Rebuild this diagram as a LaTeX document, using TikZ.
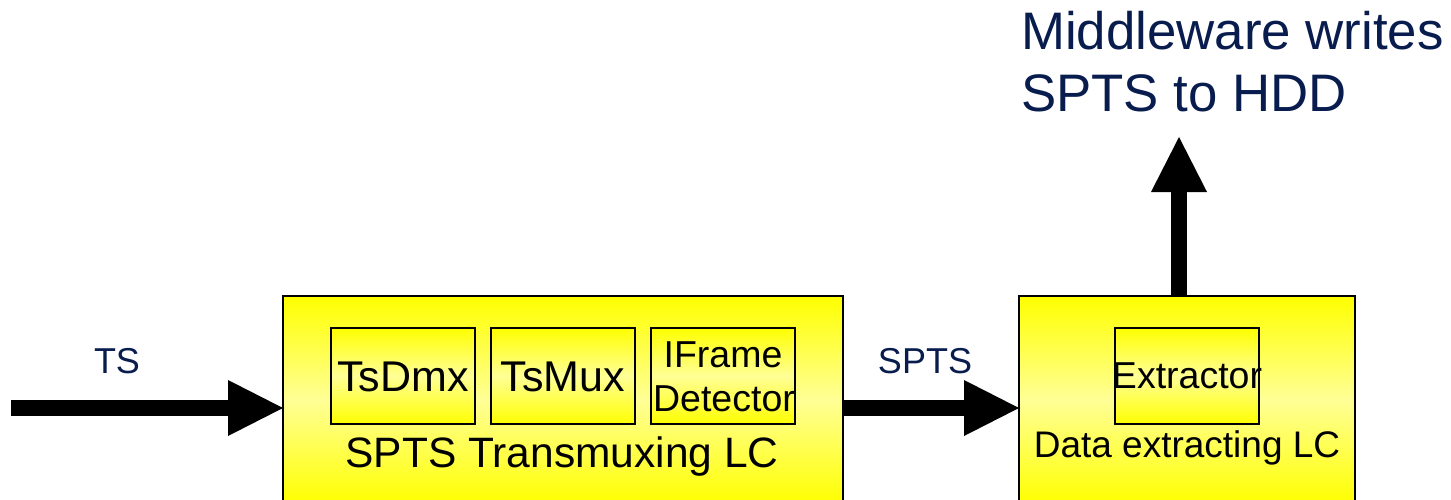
\documentclass[tikz,border=0pt]{standalone}
\usepackage{fontspec}
\setmainfont{Liberation Sans}
\usetikzlibrary{arrows.meta}
\definecolor{navy}{RGB}{8,28,78}
\definecolor{lightyel}{RGB}{255,255,150}
\tikzset{
  ybox/.style={draw=black, line width=2pt, top color=yellow, bottom color=yellow, middle color=lightyel, inner sep=0pt, outer sep=0pt, anchor=north west},
  fatarrow/.style={line width=16pt, -{Triangle[length=55pt,width=56pt,line width=0pt]}},
  boxtext/.style={inner sep=0pt, anchor=base, text=black},
  lbl/.style={inner sep=0pt, anchor=base, text=navy},
}
\newcommand{\fs}[1]{\fontsize{#1}{#1}\selectfont}
\begin{document}
\begin{tikzpicture}[x=1pt, y=-1pt]
\useasboundingbox (0,0) rectangle (1451,500);
\clip (0,0) rectangle (1451,500);
% big boxes
\node[ybox, minimum width=560pt, minimum height=208pt] (box1) at (283,296) {};
\node[ybox, minimum width=336pt, minimum height=208pt] (box2) at (1019,296) {};
% inner boxes
\node[ybox, line width=1.6pt, minimum width=144pt, minimum height=96pt] (dmx) at (331,328) {};
\node[ybox, line width=1.6pt, minimum width=144pt, minimum height=96pt] (mux) at (491,328) {};
\node[ybox, line width=1.6pt, minimum width=144pt, minimum height=96pt] (ifd) at (651,328) {};
\node[ybox, line width=1.6pt, minimum width=144pt, minimum height=96pt] (ext) at (1115,328) {};
% box texts
\node[boxtext, font=\fs{43}] (tdmx) at (403,391) {TsDmx};
\node[boxtext, font=\fs{43}] (tmux) at (563,391) {TsMux};
\node[boxtext, font=\fs{37.5}] (tif1) at (723,367) {IFrame};
\node[boxtext, font=\fs{37.5}] (tif2) at (724,411) {Detector};
\node[boxtext, font=\fs{37.5}] (text) at (1187,388) {Extractor};
\node[boxtext, font=\fs{42.5}] (tb1) at (562,467) {SPTS Transmuxing LC};
\node[boxtext, font=\fs{37}] (tb2) at (1187,457) {Data extracting LC};
% labels
\node[lbl, font=\fs{36}] (lts) at (117,373) {TS};
\node[lbl, font=\fs{36}] (lspts) at (925,373) {SPTS};
\node[lbl, font=\fs{52.8}, anchor=base west] (mw1) at (1021,50) {Middleware writes};
\node[lbl, font=\fs{52.8}, anchor=base west] (mw2) at (1021,112) {SPTS to HDD};
% arrows
\coordinate (tsin) at (11,408);
\coordinate (mwout) at (1179,137);
\draw[fatarrow] (tsin) -- (tsin -| box1.west);
\draw[fatarrow] (tsin -| box1.east) -- (tsin -| box2.west);
\draw[fatarrow] (mwout |- box2.north) -- (mwout);
\end{tikzpicture}
\end{document}
